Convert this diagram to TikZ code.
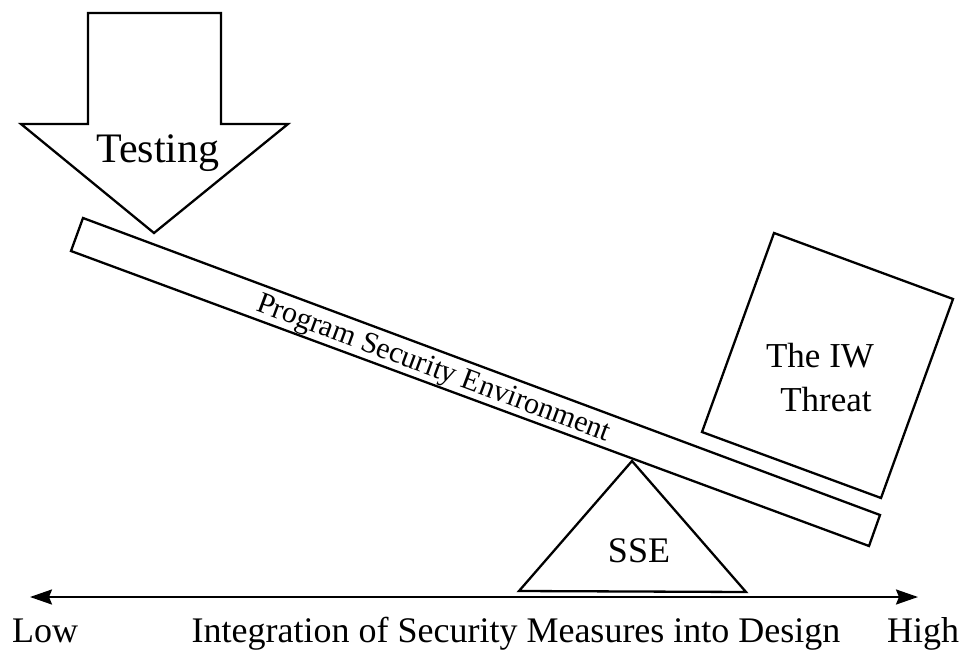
\documentclass[tikz,border=0pt]{standalone}
\usepackage{fontspec}
\setmainfont{Liberation Serif}
\usetikzlibrary{arrows.meta}
\begin{document}
\begin{tikzpicture}[x=1pt,y=-1pt,
  outline/.style={draw=black,line width=2.3pt,line join=miter},
  lbl/.style={inner sep=0pt,anchor=base,text=black},
  axis/.style={line width=2.3pt,{Stealth[length=22pt,width=15pt,inset=3pt]}-{Stealth[length=22pt,width=15pt,inset=3pt]}}]
\useasboundingbox (0,0) rectangle (960,652);
% Testing arrow
\draw[outline] (88,13) -- (221,13) -- (221,124) -- (288,124) -- (154,233) -- (21,124) -- (88,124) -- cycle;
\node[lbl,font=\fontsize{42}{48}\selectfont] (testing) at (158,163) {Testing};
% plank
\draw[outline] (83,218) -- (880,515) -- (869,546) -- (71,251) -- cycle;
\node[lbl,rotate=-20.44,font=\fontsize{30}{36}\selectfont] (pse) at (431,376) {Program Security Environment};
% IW threat box
\draw[outline] (774,233) -- (953,299) -- (881,498) -- (702,432) -- cycle;
\node[lbl,font=\fontsize{35}{44}\selectfont] (iw1) at (820,367) {The IW};
\node[lbl,font=\fontsize{35}{44}\selectfont] (iw2) at (826,411) {Threat};
% fulcrum
\draw[outline] (632,461) -- (746,592) -- (519,591) -- cycle;
\node[lbl,font=\fontsize{36}{42}\selectfont] (sse) at (639,562) {SSE};
% axis
\coordinate (lowend) at (30,597);
\coordinate (highend) at (918,597);
\draw[axis] (lowend) -- (highend);
\node[lbl,font=\fontsize{36}{42}\selectfont] (low) at (45,642) {Low};
\node[lbl,font=\fontsize{36}{42}\selectfont] (integ) at (516,642) {Integration of Security Measures into Design};
\node[lbl,font=\fontsize{36}{42}\selectfont] (high) at (923,642) {High};
\end{tikzpicture}
\end{document}
